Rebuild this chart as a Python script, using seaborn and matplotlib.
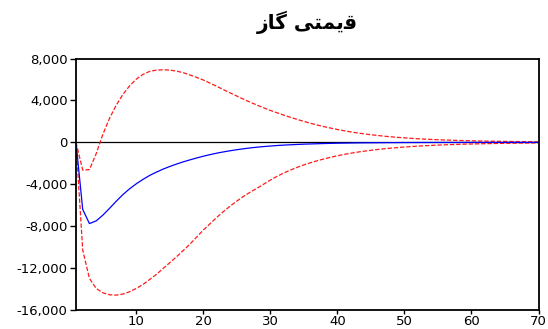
import matplotlib
matplotlib.use("Agg")
import matplotlib.pyplot as plt
import matplotlib.ticker as mticker
import seaborn as sns
import pandas as pd

# impulse response (periods 1..70)
periods = list(range(1, 71))

response = [
    0, -6400, -7750, -7500, -6950, -6300, -5620, -4980, -4430, -3950,
    -3530, -3150, -2840, -2550, -2300, -2070, -1860, -1670, -1490, -1320,
    -1170, -1030, -910, -800, -700, -610, -530, -460, -400, -350,
    -300, -260, -230, -200, -170, -150, -130, -110, -95, -80,
    -70, -60, -50, -45, -40, -35, -30, -25, -22, -19,
    -16, -14, -12, -10, -9, -8, -7, -6, -5, -4,
    -4, -3, -3, -2, -2, -2, -2, -1, -1, -1,
]

upper = [
    0, -2650, -2600, -1100, 750, 2300, 3550, 4580, 5400, 6040,
    6490, 6780, 6900, 6930, 6900, 6800, 6650, 6430, 6200, 5950,
    5650, 5350, 5030, 4720, 4420, 4120, 3830, 3560, 3300, 3050,
    2820, 2600, 2390, 2190, 2000, 1820, 1650, 1500, 1360, 1230,
    1110, 1000, 900, 810, 730, 660, 590, 530, 475, 430,
    385, 345, 310, 280, 250, 225, 205, 185, 165, 150,
    135, 122, 110, 100, 90, 82, 75, 68, 62, 56,
]

lower = [
    0, -10280, -12980, -13940, -14360, -14550, -14580, -14480, -14260, -13940,
    -13560, -13080, -12600, -12030, -11480, -10920, -10320, -9710, -9040, -8370,
    -7760, -7160, -6600, -6080, -5600, -5150, -4750, -4380, -3990, -3600,
    -3240, -2920, -2640, -2380, -2150, -1940, -1750, -1580, -1420, -1280,
    -1150, -1040, -930, -840, -760, -680, -610, -550, -495, -445,
    -400, -360, -325, -290, -260, -235, -210, -190, -170, -155,
    -140, -125, -112, -100, -90, -82, -74, -66, -60, -54,
]

y_ticks = [-16000, -12000, -8000, -4000, 0, 4000, 8000]
x_ticks = [10, 20, 30, 40, 50, 60, 70]

# title "قیمتی گاز" in presentation forms, visual order (no shaping in matplotlib)
title = "\uFEAF\uFE8E\uFB94 \uFBFD\uFE98\uFEE4\uFBFE\uFED7"

df = pd.DataFrame({"period": periods, "response": response,
                   "upper": upper, "lower": lower})

sns.set_style("ticks")
plt.rcParams["font.family"] = ["DejaVu Sans"]

fig = plt.figure(figsize=(5.48, 3.29), dpi=100)
ax = fig.add_axes([0.1387, 0.0578, 0.8440, 0.7642])

ax.axhline(0, color="black", lw=0.9, zorder=1)
sns.lineplot(data=df, x="period", y="upper", ax=ax, color="#ff1a1a",
             lw=0.9, linestyle=(0, (3.5, 1.5)))
sns.lineplot(data=df, x="period", y="lower", ax=ax, color="#ff1a1a",
             lw=0.9, linestyle=(0, (3.5, 1.5)))
sns.lineplot(data=df, x="period", y="response", ax=ax, color="#0000ff", lw=0.9)

ax.set_xlim(1, 70)
ax.set_ylim(-16000, 8000)
ax.set_xticks(x_ticks)
ax.set_yticks(y_ticks)
ax.yaxis.set_major_formatter(mticker.FuncFormatter(lambda v, p: f"{int(v):,}"))
ax.set_xlabel("")
ax.set_ylabel("")

for s in ax.spines.values():
    s.set_visible(True)
    s.set_color("black")
    s.set_linewidth(1.3)
ax.tick_params(axis="y", direction="out", length=4, width=1,
               labelsize=9.5, colors="black", pad=2)
ax.tick_params(axis="x", direction="out", length=3, width=1,
               labelsize=9.5, colors="black", pad=0.5)

fig.text(0.56, 0.933, title, ha="center", va="center", fontsize=14.5,
         fontweight="bold", family="DejaVu Sans", color="black")

fig.savefig("out.png", dpi=100)
